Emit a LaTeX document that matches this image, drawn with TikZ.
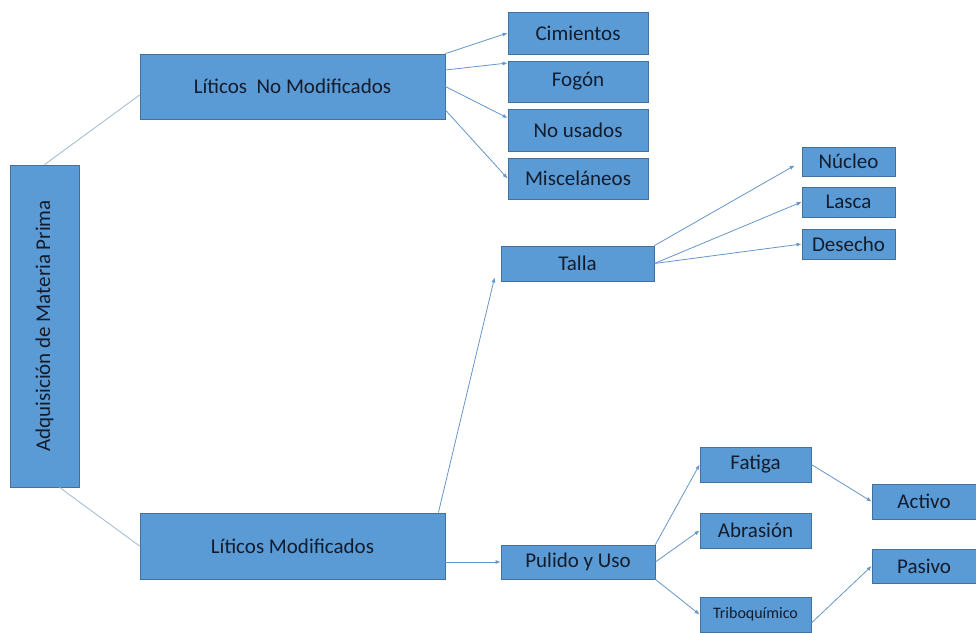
\documentclass[tikz,border=0pt]{standalone}
\usepackage{fontspec}
\setmainfont{Carlito}
\usetikzlibrary{arrows.meta}
\definecolor{boxfill}{RGB}{91,155,213}
\definecolor{boxline}{RGB}{65,113,156}
\definecolor{linkgray}{RGB}{165,190,212}
\definecolor{arrowblue}{RGB}{100,150,200}
\definecolor{textdark}{RGB}{18,28,45}

\begin{document}
\begin{tikzpicture}[x=1pt,y=-1pt,
  box/.style={draw=boxline,fill=boxfill,line width=0.8pt,text=textdark,inner sep=0pt,font=\fontsize{21}{25}\selectfont},
  link/.style={draw=linkgray,line width=0.9pt},
  arr/.style={draw=arrowblue,line width=0.8pt,-{Latex[length=5pt,width=4pt]}}]
\useasboundingbox (0,0) rectangle (976,632);
\node[box,minimum width=69pt,minimum height=322pt] (root) at (44.5,326) {\rotatebox{90}{Adquisición de Materia Prima}};
\node[box,minimum width=305pt,minimum height=65pt] (lnm) at (292.5,86.5) {Líticos\ \ No Modificados};
\node[box,minimum width=305pt,minimum height=66pt] (lm) at (292.5,546) {Líticos Modificados};
\node[box,minimum width=140pt,minimum height=42pt] (cim) at (578,33) {Cimientos};
\node[box,minimum width=140pt,minimum height=41pt] (fog) at (578,81.5) {Fogón};
\node[box,minimum width=140pt,minimum height=42pt] (nous) at (578,130) {No usados};
\node[box,minimum width=140pt,minimum height=41pt] (misc) at (578,178.5) {Misceláneos};
\node[box,minimum width=153pt,minimum height=35pt] (talla) at (577.5,263.5) {Talla};
\node[box,minimum width=93pt,minimum height=29pt] (nuc) at (848.5,161.5) {Núcleo};
\node[box,minimum width=93pt,minimum height=30pt] (lasca) at (848.5,202) {Lasca};
\node[box,minimum width=93pt,minimum height=30pt] (desecho) at (848.5,244) {Desecho};
\node[box,minimum width=154pt,minimum height=34pt] (pul) at (578,562) {Pulido y Uso};
\node[box,minimum width=111pt,minimum height=35pt] (fat) at (755.5,464.5) {Fatiga};
\node[box,minimum width=111pt,minimum height=35pt] (abr) at (755.5,530.5) {Abrasión};
\node[box,minimum width=111pt,minimum height=35pt,font=\fontsize{16}{19}\selectfont] (tri) at (755.5,614.5) {Triboquímico};
\node[box,minimum width=104pt,minimum height=35pt] (act) at (924,501.5) {Activo};
\node[box,minimum width=104pt,minimum height=34pt] (pas) at (924,566) {Pasivo};
\draw[link] (root.north) -- ([yshift=-8.5pt]lnm.west);
\draw[link] ([xshift=15pt]root.south) -- (lm.west);
\draw[arr] (lnm.north east) -- (cim.west);
\draw[arr] ([yshift=16.5pt]lnm.east) -- ([yshift=18.5pt]fog.west);
\draw[arr] (lnm.east) -- ([yshift=12pt]nous.west);
\draw[arr] ([yshift=-23.5pt]lnm.east) -- (misc.west);
\draw[arr] ([xshift=-7pt]lm.north east) -- ([xshift=-6pt,yshift=4pt]talla.south west);
\draw[arr] ([yshift=-16pt]lm.east) -- (pul.west);
\draw[arr,shorten >=8pt] (talla.north east) -- (nuc.west);
\draw[arr] (talla.east) -- (lasca.west);
\draw[arr] (talla.east) -- (desecho.west);
\draw[arr] (pul.north east) -- (fat.west);
\draw[arr] (pul.east) -- (abr.west);
\draw[arr] (pul.south east) -- (tri.west);
\draw[arr] (fat.east) -- (act.west);
\draw[arr] ([yshift=-8.5pt]tri.east) -- (pas.west);
\end{tikzpicture}
\end{document}
